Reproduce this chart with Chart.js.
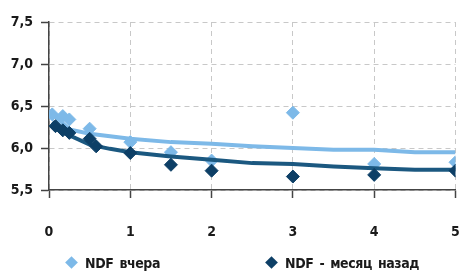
<!DOCTYPE html>
<html>
<head>
<meta charset="utf-8">
<script src="https://cdn.jsdelivr.net/npm/chart.js@4"></script>
<style>
    html, body { margin: 0; padding: 0; background: #fff; }
    #wrap { position: relative; width: 463px; height: 273px; }
    #legend {
        position: absolute; left: 0; top: 253px; width: 463px; height: 20px;
        font: bold 14px "DejaVu Sans Condensed", "DejaVu Sans", sans-serif;
        color: #1a1a1a; word-spacing: 2px; letter-spacing: -0.4px;
    }
    .item { position: absolute; top: 0; white-space: nowrap; line-height: 20px; }
    .mark { position: absolute; top: 5px; width: 9px; height: 9px; transform: rotate(45deg); }
</style>
</head>
<body>
<div id="wrap">
    <canvas id="chart" width="463" height="273"></canvas>
    <div id="legend">
        <div class="item" style="left:66px"><span class="mark" style="left:1px;background:#7DB9E8"></span><span style="margin-left:19px">NDF вчера</span></div>
        <div class="item" style="left:266px"><span class="mark" style="left:1px;background:#0D3F66"></span><span style="margin-left:19px">NDF - месяц назад</span></div>
    </div>
</div>
<script>
const seriesNames = ['NDF вчера', 'NDF - месяц назад'];

// точки (наблюдения)
const yesterdayX = [0.04, 0.17, 0.25, 0.5, 1, 1.5, 2, 3, 4, 5];
const yesterdayY = [6.40, 6.38, 6.34, 6.23, 6.07, 5.95, 5.85, 6.42, 5.81, 5.83];
const monthAgoX = [0.08, 0.17, 0.25, 0.5, 0.58, 1, 1.5, 2, 3, 4, 5];
const monthAgoY = [6.26, 6.21, 6.18, 6.11, 6.02, 5.94, 5.80, 5.73, 5.66, 5.68, 5.73];

// кривые
const curveX = [0.04, 0.25, 0.5, 0.75, 1, 1.5, 2, 2.5, 3, 3.5, 4, 4.5, 5];
const yesterdayCurve = [6.41, 6.22, 6.17, 6.14, 6.11, 6.07, 6.05, 6.02, 6.00, 5.98, 5.98, 5.95, 5.95];
const monthAgoCurve = [6.31, 6.15, 6.04, 5.99, 5.95, 5.90, 5.86, 5.82, 5.81, 5.78, 5.76, 5.74, 5.74];

const yTickValues = [5.5, 6.0, 6.5, 7.0, 7.5];
const yTickLabels = ['5,5', '6,0', '6,5', '7,0', '7,5'];
const xTickLabels = ['0', '1', '2', '3', '4', '5'];

const lightBlue = '#7DB9E8';
const darkBlue = '#0D3F66';
const darkLine = '#1B5880';

function pts(xs, ys) {
    return xs.map((x, i) => ({ x: x, y: ys[i] }));
}

const tickFont = { family: '"DejaVu Sans Condensed", "DejaVu Sans", sans-serif', size: 14, weight: 'bold' };

new Chart(document.getElementById('chart').getContext('2d'), {
    type: 'scatter',
    data: {
        datasets: [
            {
                label: seriesNames[1],
                data: pts(monthAgoX, monthAgoY),
                pointStyle: 'rectRot',
                pointRadius: 6.5,
                pointBackgroundColor: darkBlue,
                pointBorderColor: darkBlue,
                pointBorderWidth: 1,
                order: 1
            },
            {
                label: seriesNames[1] + ' (кривая)',
                data: pts(curveX, monthAgoCurve),
                showLine: true,
                pointRadius: 0,
                borderColor: darkLine,
                borderWidth: 4,
                tension: 0,
                order: 2
            },
            {
                label: seriesNames[0] + ' (кривая)',
                data: pts(curveX, yesterdayCurve),
                showLine: true,
                pointRadius: 0,
                borderColor: lightBlue,
                borderWidth: 4,
                tension: 0,
                order: 3
            },
            {
                label: seriesNames[0],
                data: pts(yesterdayX, yesterdayY),
                pointStyle: 'rectRot',
                pointRadius: 6.5,
                pointBackgroundColor: lightBlue,
                pointBorderColor: lightBlue,
                pointBorderWidth: 1,
                order: 4
            }
        ]
    },
    options: {
        responsive: false,
        animation: false,
        layout: { padding: { top: 22, right: 7, left: 0, bottom: 23 } },
        plugins: { legend: { display: false }, tooltip: { enabled: false } },
        scales: {
            x: {
                type: 'linear',
                min: 0,
                max: 5,
                ticks: {
                    stepSize: 1,
                    padding: 26,
                    color: '#1a1a1a',
                    font: tickFont,
                    callback: (v, i) => xTickLabels[i]
                },
                grid: {
                    color: '#C8C8C8',
                    lineWidth: 1,
                    tickLength: 8,
                    tickColor: '#444',
                    tickWidth: 1.5,
                    tickBorderDash: []
                },
                border: { display: true, color: '#444', width: 1.5, dash: [5, 4] },
                afterFit: s => {
                    s.height = 60;
                    // ticks.padding не должен сужать область по горизонтали
                    s.paddingLeft = 4;
                    s.paddingRight = 4;
                }
            },
            y: {
                min: yTickValues[0],
                max: yTickValues[yTickValues.length - 1],
                ticks: {
                    stepSize: 0.5,
                    padding: 8,
                    color: '#1a1a1a',
                    font: tickFont,
                    callback: (v, i) => yTickLabels[i]
                },
                grid: {
                    color: '#C8C8C8',
                    lineWidth: 1,
                    tickLength: 8,
                    tickColor: '#444',
                    tickWidth: 1.5,
                    tickBorderDash: []
                },
                border: { display: true, color: '#444', width: 1.5, dash: [5, 4] },
                afterFit: s => { s.width = 49; }
            }
        }
    }
});
</script>
</body>
</html>
